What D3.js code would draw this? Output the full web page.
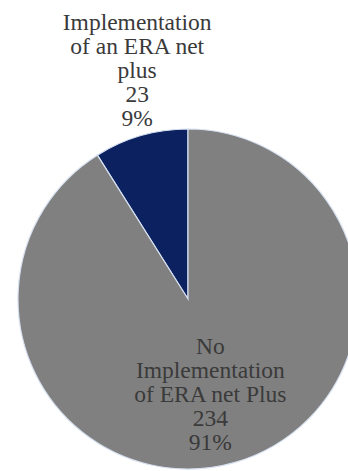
<!DOCTYPE html>
<html>
<head>
<meta charset="utf-8">
<script src="https://cdn.jsdelivr.net/npm/d3@7"></script>
<style>
  html, body { margin: 0; padding: 0; background: #ffffff; }
  svg { display: block; }
  text { font-family: "Liberation Serif", "DejaVu Serif", serif; fill: #3a3a3a; }
</style>
</head>
<body>
<svg id="chart" width="348" height="471"></svg>
<script>
// Responses: whether an ERA net plus was implemented
const categories = ["Implementation of an ERA net plus", "No Implementation of ERA net Plus"];
const labelLines = [["Implementation", "of an ERA net", "plus"], ["No", "Implementation", "of ERA net Plus"]];
const counts = [23, 234];
const percentLabels = ["9%", "91%"];
const colors = ["#0b2160", "#808080"];

const width = 348, height = 471;
const cx = 188, cy = 299, radius = 170;

const svg = d3.select("#chart");
const g = svg.append("g").attr("transform", `translate(${cx},${cy})`);

const data = categories.map((c, i) => ({ name: c, value: counts[i], lines: labelLines[i], pct: percentLabels[i], color: colors[i] }));

// Small slice drawn counter-clockwise from 12 o'clock
const pie = d3.pie().sort(null).value(d => d.value)
  .startAngle(0).endAngle(-2 * Math.PI);

const arcs = pie(data);
const arc = d3.arc().innerRadius(0).outerRadius(radius);

g.selectAll("path.slice")
  .data(arcs)
  .join("path")
  .attr("class", "slice")
  .attr("d", arc)
  .attr("fill", d => d.data.color)
  .attr("stroke", "#d6e0f0")
  .attr("stroke-width", 1.2);

// Label placement: outside for the small slice, inside for the large one
const labelRadius = [1.406, 0.58];
const labelShift = [[15.5, 0], [-5, 0]];
const fontSize = 23.5, lineH = 24;

arcs.forEach((a, i) => {
  const mid = (a.startAngle + a.endAngle) / 2;
  const r = radius * labelRadius[i];
  const x = Math.sin(mid) * r + labelShift[i][0];
  const y = -Math.cos(mid) * r + labelShift[i][1];
  const lines = a.data.lines.concat([String(a.data.value), a.data.pct]);
  const t = g.append("text")
    .attr("text-anchor", "middle")
    .attr("font-size", fontSize)
    .attr("x", x)
    .attr("y", y - (lines.length - 1) * lineH / 2 + fontSize * 0.35);
  lines.forEach((l, k) => {
    t.append("tspan").attr("x", x).attr("dy", k === 0 ? 0 : lineH).text(l);
  });
});
</script>
</body>
</html>
